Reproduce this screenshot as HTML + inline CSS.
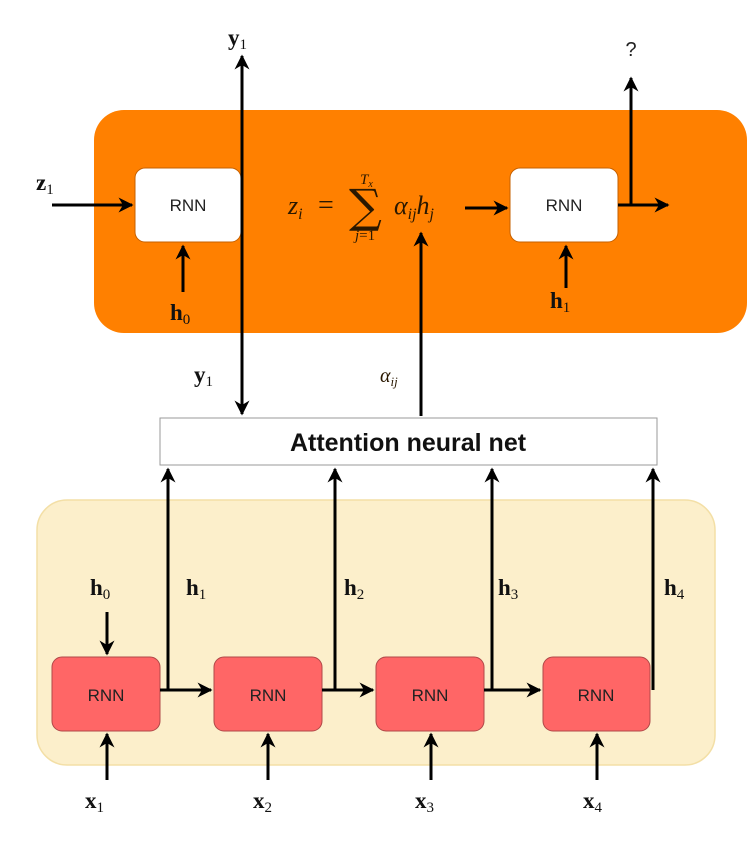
<!DOCTYPE html>
<html><head><meta charset="utf-8"><style>
html,body{margin:0;padding:0;background:#fff}
svg{display:block}
.m{font-family:"Liberation Serif",serif;font-weight:bold;font-size:23px;fill:#111}
.s{font-family:"Liberation Serif",serif;font-weight:normal;font-size:15px;fill:#111}
.i{font-family:"Liberation Serif",serif;font-style:italic;fill:#2a1800}
.r{font-family:"Liberation Sans",sans-serif;font-size:17px;fill:#222}
</style></head><body>
<svg width="753" height="845" viewBox="0 0 753 845" xmlns="http://www.w3.org/2000/svg">
<defs><marker id="a" viewBox="0 0 10 10" refX="9" refY="5" markerWidth="5" markerHeight="5" orient="auto"><path d="M0,0 L10,5 L0,10 L3,5z" fill="#000"/></marker></defs>
<rect x="94" y="110" width="653" height="223" rx="30" fill="#FF8000"/>
<rect x="37" y="500" width="678" height="265" rx="30" fill="#FCEFCB" stroke="#F3DFA6" stroke-width="1.5"/>
<rect x="135" y="168" width="106" height="74" rx="10" fill="#fff" stroke="#c66000"/>
<rect x="510" y="168" width="108" height="74" rx="10" fill="#fff" stroke="#c66000"/>
<text class="r" x="188" y="211" text-anchor="middle">RNN</text>
<text class="r" x="564" y="211" text-anchor="middle">RNN</text>
<rect x="160" y="418" width="497" height="47" fill="#fff" stroke="#999"/>
<text x="408" y="451" text-anchor="middle" font-family="Liberation Sans,sans-serif" font-weight="bold" font-size="25" fill="#111">Attention neural net</text>
<g fill="#FF6666" stroke="#b04848">
<rect x="52" y="657" width="108" height="74" rx="10"/>
<rect x="214" y="657" width="108" height="74" rx="10"/>
<rect x="376" y="657" width="108" height="74" rx="10"/>
<rect x="543" y="657" width="107" height="74" rx="10"/>
</g>
<g class="r"><text x="106" y="701" text-anchor="middle">RNN</text><text x="268" y="701" text-anchor="middle">RNN</text><text x="430" y="701" text-anchor="middle">RNN</text><text x="596" y="701" text-anchor="middle">RNN</text></g>
<g stroke="#000" stroke-width="3" fill="none" marker-end="url(#a)">
<line x1="242" y1="400" x2="242" y2="56"/>
<line x1="242" y1="70" x2="242" y2="414"/>
<line x1="52" y1="205" x2="132" y2="205"/>
<line x1="183" y1="292" x2="183" y2="246"/>
<line x1="465" y1="208" x2="507" y2="208"/>
<line x1="421" y1="416" x2="421" y2="233"/>
<line x1="566" y1="288" x2="566" y2="246"/>
<line x1="618" y1="205" x2="668" y2="205"/>
<line x1="631" y1="205" x2="631" y2="78"/>
<line x1="107" y1="612" x2="107" y2="654"/>
<line x1="160" y1="690" x2="211" y2="690"/>
<line x1="322" y1="690" x2="373" y2="690"/>
<line x1="484" y1="690" x2="540" y2="690"/>
<line x1="168" y1="690" x2="168" y2="469"/>
<line x1="335" y1="690" x2="335" y2="469"/>
<line x1="492" y1="690" x2="492" y2="469"/>
<line x1="653" y1="690" x2="653" y2="469"/>
<line x1="107" y1="780" x2="107" y2="734"/>
<line x1="268" y1="780" x2="268" y2="734"/>
<line x1="431" y1="780" x2="431" y2="734"/>
<line x1="597" y1="780" x2="597" y2="734"/>
</g>
<text class="m" x="228" y="45">y<tspan class="s" dy="4">1</tspan></text>
<text class="m" x="194" y="382">y<tspan class="s" dy="4">1</tspan></text>
<text class="m" x="36" y="190">z<tspan class="s" dy="4">1</tspan></text>
<text class="m" x="170" y="320">h<tspan class="s" dy="4">0</tspan></text>
<text class="m" x="550" y="308">h<tspan class="s" dy="4">1</tspan></text>
<text x="631" y="56" text-anchor="middle" font-family="Liberation Sans,sans-serif" font-size="20" fill="#222">?</text>
<text class="i" x="380" y="382" font-size="20">α<tspan font-size="13" dy="4">ij</tspan></text>
<text class="i" x="288" y="214" font-size="26">z<tspan font-size="16" dy="5">i</tspan></text>
<text x="318" y="214" font-family="Liberation Serif,serif" font-size="28" fill="#2a1800">=</text>
<text x="349" y="222" font-family="DejaVu Serif,serif" font-size="46" fill="#2a1800">∑</text>
<text class="i" x="360" y="184" font-size="15">T<tspan font-size="10" dy="3">x</tspan></text>
<text class="i" x="355" y="240" font-size="15">j<tspan font-style="normal">=1</tspan></text>
<text class="i" x="394" y="214" font-size="26">α<tspan font-size="16" dy="5">ij</tspan><tspan dy="-5">h</tspan><tspan font-size="16" dy="5">j</tspan></text>
<text class="m" x="90" y="595">h<tspan class="s" dy="4">0</tspan></text>
<text class="m" x="186" y="595">h<tspan class="s" dy="4">1</tspan></text>
<text class="m" x="344" y="595">h<tspan class="s" dy="4">2</tspan></text>
<text class="m" x="498" y="595">h<tspan class="s" dy="4">3</tspan></text>
<text class="m" x="664" y="595">h<tspan class="s" dy="4">4</tspan></text>
<text class="m" x="85" y="808">x<tspan class="s" dy="4">1</tspan></text>
<text class="m" x="253" y="808">x<tspan class="s" dy="4">2</tspan></text>
<text class="m" x="415" y="808">x<tspan class="s" dy="4">3</tspan></text>
<text class="m" x="583" y="808">x<tspan class="s" dy="4">4</tspan></text>
</svg>
</body></html>
